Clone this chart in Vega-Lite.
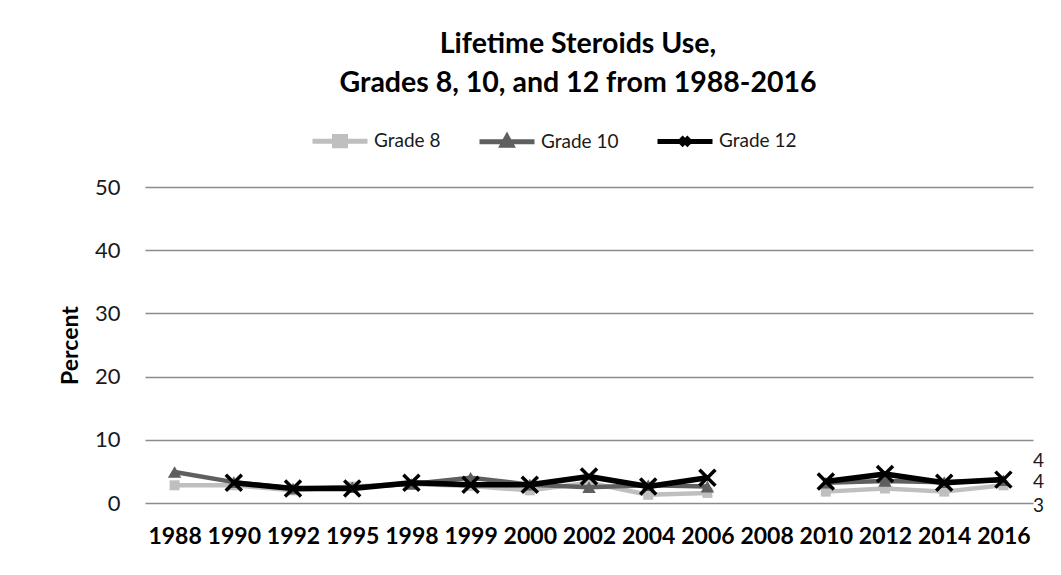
{
  "$schema": "https://vega.github.io/schema/vega-lite/v6.json",
  "width": 888,
  "height": 316,
  "autosize": {"type": "none"},
  "padding": {"left": 145, "top": 187, "right": 28, "bottom": 72},
  "background": "white",
  "config": {"view": {"stroke": null}, "font": "Lato"},
  "title": {
    "text": ["Lifetime Steroids Use,", "Grades 8, 10, and 12 from 1988-2016"],
    "font": "Lato", "fontSize": 28.5, "fontWeight": "bold", "color": "black",
    "lineHeight": 39, "anchor": "middle", "dx": -11, "offset": 14
  },
  "data": {"values": [
    {"year": "1988", "series": "Grade 8", "value": 2.8},
    {"year": "1988", "series": "Grade 10", "value": 4.9},
    {"year": "1988", "series": "Grade 12", "value": null},
    {"year": "1990", "series": "Grade 8", "value": 2.8},
    {"year": "1990", "series": "Grade 10", "value": 3.3},
    {"year": "1990", "series": "Grade 12", "value": 3.2},
    {"year": "1992", "series": "Grade 8", "value": 2.0},
    {"year": "1992", "series": "Grade 10", "value": 2.3},
    {"year": "1992", "series": "Grade 12", "value": 2.3},
    {"year": "1995", "series": "Grade 8", "value": 2.6},
    {"year": "1995", "series": "Grade 10", "value": 2.5},
    {"year": "1995", "series": "Grade 12", "value": 2.3},
    {"year": "1998", "series": "Grade 8", "value": 3.0},
    {"year": "1998", "series": "Grade 10", "value": 3.0},
    {"year": "1998", "series": "Grade 12", "value": 3.2},
    {"year": "1999", "series": "Grade 8", "value": 2.7},
    {"year": "1999", "series": "Grade 10", "value": 4.0},
    {"year": "1999", "series": "Grade 12", "value": 2.9},
    {"year": "2000", "series": "Grade 8", "value": 2.0},
    {"year": "2000", "series": "Grade 10", "value": 2.9},
    {"year": "2000", "series": "Grade 12", "value": 2.9},
    {"year": "2002", "series": "Grade 8", "value": 3.2},
    {"year": "2002", "series": "Grade 10", "value": 2.5},
    {"year": "2002", "series": "Grade 12", "value": 4.2},
    {"year": "2004", "series": "Grade 8", "value": 1.3},
    {"year": "2004", "series": "Grade 10", "value": 2.8},
    {"year": "2004", "series": "Grade 12", "value": 2.6},
    {"year": "2006", "series": "Grade 8", "value": 1.6},
    {"year": "2006", "series": "Grade 10", "value": 2.6},
    {"year": "2006", "series": "Grade 12", "value": 4.0},
    {"year": "2008", "series": "Grade 8", "value": null},
    {"year": "2008", "series": "Grade 10", "value": null},
    {"year": "2008", "series": "Grade 12", "value": null},
    {"year": "2010", "series": "Grade 8", "value": 1.8},
    {"year": "2010", "series": "Grade 10", "value": 3.2},
    {"year": "2010", "series": "Grade 12", "value": 3.4},
    {"year": "2012", "series": "Grade 8", "value": 2.3},
    {"year": "2012", "series": "Grade 10", "value": 3.5},
    {"year": "2012", "series": "Grade 12", "value": 4.6},
    {"year": "2014", "series": "Grade 8", "value": 1.8},
    {"year": "2014", "series": "Grade 10", "value": 3.3},
    {"year": "2014", "series": "Grade 12", "value": 3.2},
    {"year": "2016", "series": "Grade 8", "value": 2.8},
    {"year": "2016", "series": "Grade 10", "value": 3.6},
    {"year": "2016", "series": "Grade 12", "value": 3.7}
  ]},
  "encoding": {
    "x": {
      "field": "year", "type": "ordinal",
      "scale": {"type": "point", "padding": 0.5, "domain": ["1988","1990","1992","1995","1998","1999","2000","2002","2004","2006","2008","2010","2012","2014","2016"]},
      "axis": {"title": null, "labelAngle": 0, "labelFont": "Lato", "labelFontSize": 23, "labelFontWeight": "bold", "labelColor": "black", "ticks": false, "domain": false, "grid": false, "labelPadding": 22}
    },
    "y": {
      "field": "value", "type": "quantitative",
      "scale": {"domain": [0, 50]},
      "axis": {"title": "Percent", "titleFont": "Lato", "titleFontSize": 23, "titleFontWeight": "bold", "titleColor": "black", "labelFont": "Lato", "labelFontSize": 22, "labelColor": "#1a1a1a", "ticks": false, "domain": false, "grid": true, "gridColor": "#8c8c8c", "gridWidth": 1.5, "values": [0, 10, 20, 30, 40, 50], "labelPadding": 25, "titlePadding": 12}
    },
    "color": {
      "field": "series", "type": "nominal",
      "scale": {"domain": ["Grade 8", "Grade 10", "Grade 12"], "range": ["#bfbfbf", "#5f5f5f", "#000000"]},
      "legend": {
        "orient": "none", "legendX": 165, "legendY": -76, "direction": "horizontal", "title": null,
        "padding": 0, "symbolSize": 3025, "symbolStrokeWidth": 5, "labelFont": "Lato", "labelFontSize": 19,
        "labelColor": "#1a1a1a", "columnPadding": 28, "labelOffset": 4,
        "encode": {"symbols": {"update": {
          "shape": {"signal": "datum.value === 'Grade 8' ? 'M-1,0L1,0M-0.2,-0.17L0.2,-0.17L0.2,0.17L-0.2,0.17Z' : datum.value === 'Grade 10' ? 'M-1,0L1,0M-0.17,0.13L0,-0.18L0.17,0.13Z' : 'M-1,0L1,0M-0.15,-0.15L0.15,0.15M-0.15,0.15L0.15,-0.15'"},
          "fill": {"signal": "scale('color', datum.value)"},
          "stroke": {"signal": "scale('color', datum.value)"},
          "strokeWidth": {"value": 5},
          "opacity": {"value": 1}
        }}}
      }
    }
  },
  "layer": [
    {"transform": [{"filter": "datum.series === 'Grade 8'"}], "mark": {"type": "line", "strokeWidth": 4.5, "strokeJoin": "round", "strokeCap": "round", "invalid": "break-paths-show-domains"}},
    {"transform": [{"filter": "datum.series === 'Grade 8'"}], "mark": {"type": "point", "shape": "square", "filled": true, "size": 100, "opacity": 1}},
    {"transform": [{"filter": "datum.series === 'Grade 10'"}], "mark": {"type": "line", "strokeWidth": 4.5, "strokeJoin": "round", "strokeCap": "round", "invalid": "break-paths-show-domains"}},
    {"transform": [{"filter": "datum.series === 'Grade 10'"}], "mark": {"type": "point", "shape": "triangle-up", "filled": true, "size": 180, "opacity": 1}},
    {"transform": [{"filter": "datum.series === 'Grade 12'"}], "mark": {"type": "line", "strokeWidth": 5.5, "strokeJoin": "round", "strokeCap": "round", "invalid": "break-paths-show-domains"}},
    {"transform": [{"filter": "datum.series === 'Grade 12'"}], "mark": {"type": "point", "shape": "M-1,-1L1,1M-1,1L1,-1", "filled": false, "strokeWidth": 3.5, "size": 256, "opacity": 1}},
    {"transform": [{"filter": "datum.series === 'Grade 12' && datum.year === '2016'"}], "mark": {"type": "text", "dx": 35, "dy": -19, "font": "Lato", "fontSize": 19, "align": "center", "baseline": "middle"}, "encoding": {"text": {"field": "value", "type": "quantitative", "format": ".0f"}, "color": {"value": "#1a1a1a"}}},
    {"transform": [{"filter": "datum.series === 'Grade 10' && datum.year === '2016'"}], "mark": {"type": "text", "dx": 35, "dy": 1.5, "font": "Lato", "fontSize": 19, "align": "center", "baseline": "middle"}, "encoding": {"text": {"field": "value", "type": "quantitative", "format": ".0f"}, "color": {"value": "#1a1a1a"}}},
    {"transform": [{"filter": "datum.series === 'Grade 8' && datum.year === '2016'"}], "mark": {"type": "text", "dx": 35, "dy": 21, "font": "Lato", "fontSize": 19, "align": "center", "baseline": "middle"}, "encoding": {"text": {"field": "value", "type": "quantitative", "format": ".0f"}, "color": {"value": "#1a1a1a"}}}
  ]
}
